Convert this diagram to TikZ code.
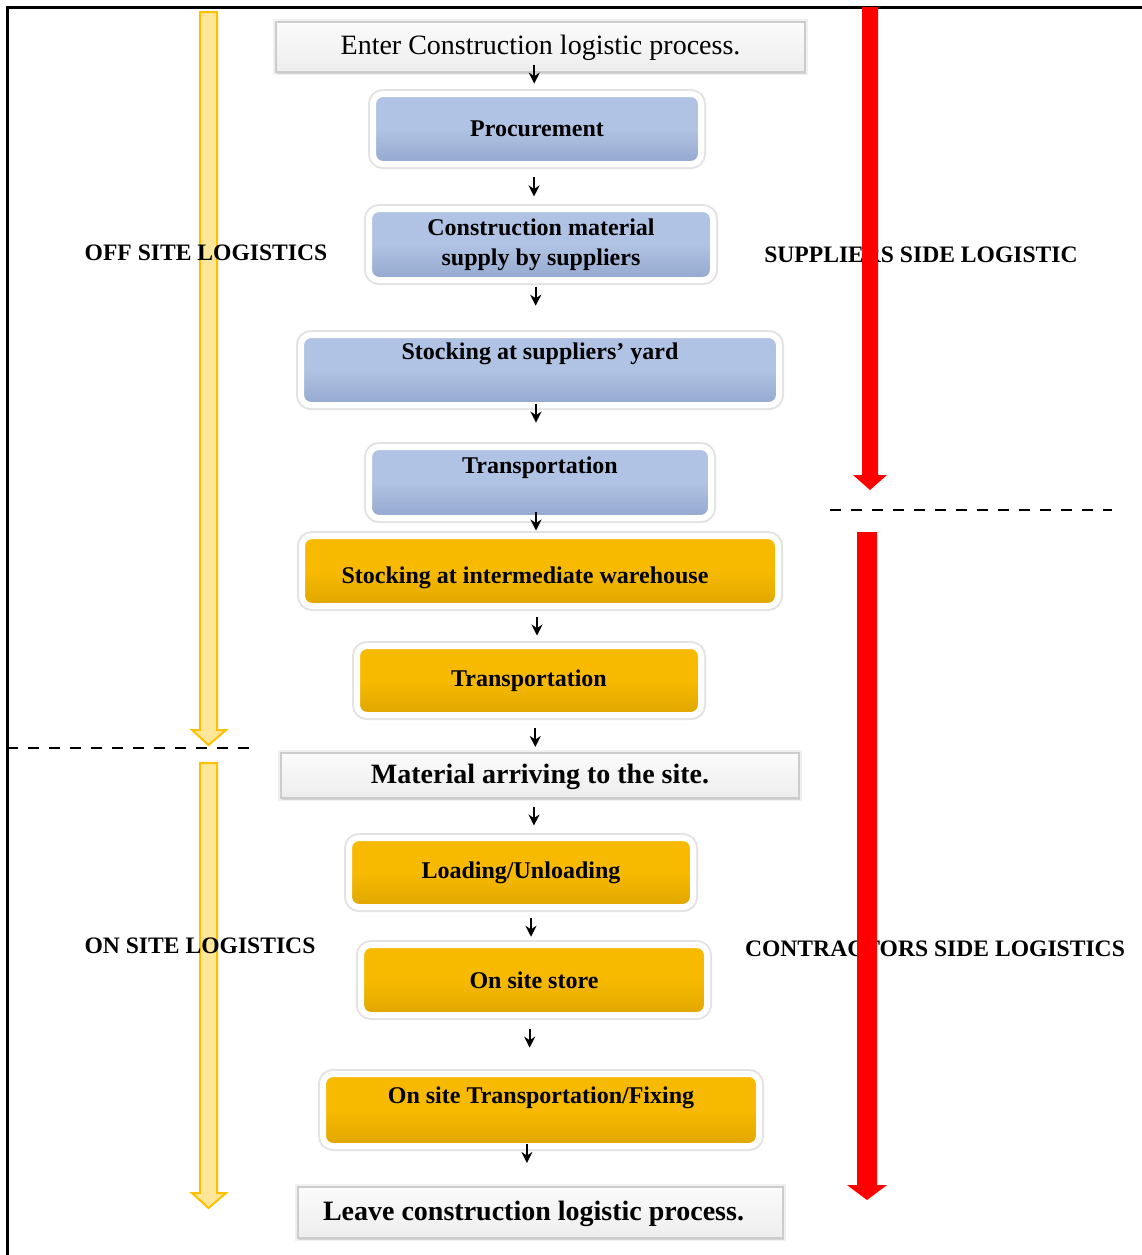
\documentclass[tikz,border=0pt]{standalone}
\usepackage{fontspec}
\setmainfont{Liberation Serif}
\usetikzlibrary{positioning,arrows.meta,shadows,calc}
\definecolor{stepblue}{RGB}{176,195,228}
\definecolor{stepblueD}{RGB}{148,168,206}
\definecolor{steporange}{RGB}{247,186,0}
\definecolor{steporangeD}{RGB}{224,166,0}
\definecolor{lightgold}{RGB}{255,230,153}
\definecolor{gold}{RGB}{255,192,0}

\begin{document}
\begin{tikzpicture}[x=0.5pt,y=-0.5pt,
size/.style 2 args={minimum width=#1*0.5pt, minimum height=#2*0.5pt},
stepbox/.style={rounded corners=5pt, draw=white, line width=3pt, inner sep=0pt, align=center,
	font=\fontsize{12}{15}\selectfont\bfseries,
	preaction={draw=gray!22, line width=5pt},
	drop shadow={opacity=0.3, shadow xshift=0.6pt, shadow yshift=-0.8pt}},
bluebox/.style={stepbox, top color=stepblue, bottom color=stepblueD, middle color=stepblue},
orangebox/.style={stepbox, top color=steporange, bottom color=steporangeD, middle color=steporange},
greybox/.style={draw=gray!40, line width=0.8pt, inner sep=0pt, top color=gray!3, bottom color=gray!14,
	preaction={draw=gray!12, line width=3pt},
	drop shadow={opacity=0.25, shadow xshift=0.6pt, shadow yshift=-0.8pt}},
sidelabel/.style={font=\fontsize{11.8}{14}\selectfont\bfseries, inner sep=0pt},
flow/.style={-{Stealth[length=5.5pt,width=5.5pt]}, line width=1pt},
yarrow/.style={fill=lightgold, draw=gold, line width=1pt},
divider/.style={line width=1pt, dash pattern=on 5.5pt off 5pt},
]
	\useasboundingbox (0,0) rectangle (1142,1255);
	% frame
	\draw[line width=1.5pt] (1142,7) -- (7,7) -- (7,1255);

	% off site / on site
	\draw[yarrow] (200,12) -- (217,12) -- (217,730) -- (226,730) -- (208.5,745) -- (192,730) -- (200,730) -- cycle;
	\draw[yarrow] (200,763) -- (217,763) -- (217,1193) -- (226,1193) -- (208.5,1208) -- (192,1193) -- (200,1193) -- cycle;
	\draw[divider] (7,748) -- (255,748);
	\draw[divider] (830,510) -- (1112,510);

	\node[sidelabel] (offsite) at (206,253) {OFF SITE LOGISTICS};
	\node[sidelabel] (onsite) at (200,946) {ON SITE LOGISTICS};
	\node[sidelabel] (supplier) at (921,255) {SUPPLIERS SIDE LOGISTIC};
	\node[sidelabel] (contractor) at (935,949) {CONTRACTORS SIDE LOGISTICS};

	% supplier / contractor
	\fill[red] (862,7) -- (878,7) -- (878,475) -- (887,475) -- (870,490) -- (853,475) -- (862,475) -- cycle;
	\fill[red] (857,532) -- (877,532) -- (877,1185) -- (887,1185) -- (867,1200) -- (847,1185) -- (857,1185) -- cycle;

	% process steps
	\node[greybox, size={529}{50}, font=\fontsize{14}{17}\selectfont, text height=11pt] (enter) at (540.5,47) {Enter Construction logistic process.};
	\node[bluebox, size={328}{70}] (proc) at (537,129) {Procurement};
	\node[bluebox, size={344}{71}] (supply) at (541,244.5) {Construction material\\supply by suppliers};
	\node[bluebox, size={478}{70}, text depth=18.5pt] (yard) at (540,370) {Stocking at suppliers' yard};
	\node[bluebox, size={342}{71}, text depth=17pt] (trans1) at (540,482.5) {Transportation};
	\node[orangebox, size={476}{70}, text height=15pt] (inter) at (540,571) {Stocking at intermediate warehouse\hspace*{15pt}};
	\node[orangebox, size={344}{69}] (trans2) at (529,680.5) {Transportation};
	\node[greybox, size={518}{45}, font=\fontsize{14}{17}\selectfont\bfseries, text height=11pt] (arrive) at (540,775.5) {Material arriving to the site.};
	\node[orangebox, size={344}{69}] (load) at (521,872.5) {Loading/Unloading};
	\node[orangebox, size={346}{70}] (store) at (534,980) {On site store};
	\node[orangebox, size={436}{72}, text depth=14.5pt] (fixing) at (541,1110) {On site Transportation/Fixing};
	\node[greybox, size={485}{51}, font=\fontsize{14}{17}\selectfont\bfseries, text height=11pt] (leave) at (540.5,1212.5) {Leave construction logistic process.\hspace*{7pt}};

	\foreach \a/\b/\p/\dx in {enter/proc/0.07/-6, proc/supply/0.51/-5, supply/yard/0.27/-5,
		yard/trans1/0.14/-4, trans1/inter/0/-4, inter/trans2/0.5/2.5, trans2/arrive/0.57/0,
		arrive/load/0.475/3, load/store/0.54/3, store/fixing/0.38/-7, fixing/leave/0.12/-14}{
		\path (\a.south) -- (\b.north) coordinate[pos=\p] (m);
		\draw[flow] ($(m)+(\dx,-9.5)$) -- ($(m)+(\dx,9.5)$);
	}
\end{tikzpicture}
\end{document}
